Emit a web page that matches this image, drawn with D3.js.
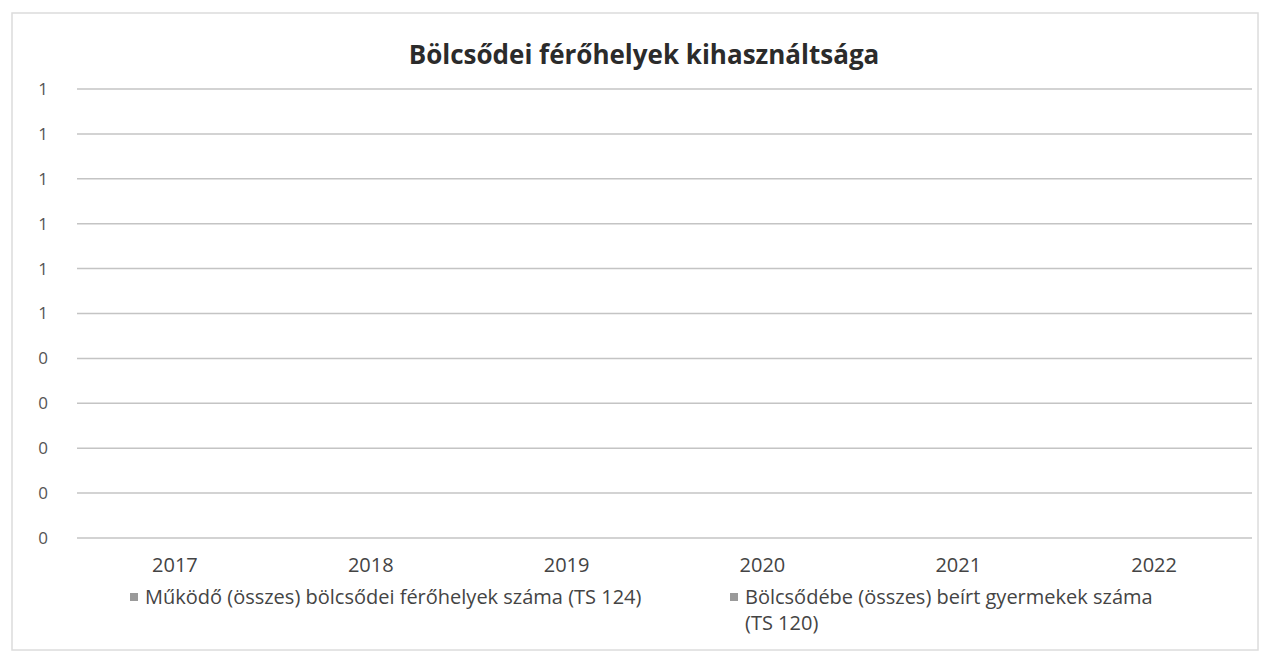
<!DOCTYPE html>
<html>
<head>
<meta charset="utf-8">
<script src="https://cdn.jsdelivr.net/npm/d3@7"></script>
<style>
  body { margin: 0; background: #fff; }
  text { font-family: "Open Sans", sans-serif; }
</style>
</head>
<body>
<svg id="chart" width="1266" height="656"></svg>
<script>
// Adatok (a diagram üres, nincs kitöltött érték)
const years = ["2017", "2018", "2019", "2020", "2021", "2022"];
const ferohelyek = [null, null, null, null, null, null];
const beirtGyermekek = [null, null, null, null, null, null];
const yTicks = [0, 0.1, 0.2, 0.3, 0.4, 0.5, 0.6, 0.7, 0.8, 0.9, 1];
const yTickLabels = ["0", "0", "0", "0", "0", "1", "1", "1", "1", "1", "1"];
const seriesNames = [
  "Működő (összes) bölcsődei férőhelyek száma (TS 124)",
  "Bölcsődébe (összes) beírt gyermekek száma"
];

const svg = d3.select("#chart");
const margin = { top: 89, right: 14, bottom: 118, left: 77 };
const width = +svg.attr("width") - margin.left - margin.right;
const height = +svg.attr("height") - margin.top - margin.bottom;

// keret
svg.append("rect")
  .attr("x", 12).attr("y", 13)
  .attr("width", 1246).attr("height", 637)
  .attr("fill", "none")
  .attr("stroke", "#dcdcdc")
  .attr("stroke-width", 1.5);

svg.append("text")
  .attr("x", 644).attr("y", 64)
  .attr("text-anchor", "middle")
  .attr("font-size", 26)
  .attr("font-weight", "bold")
  .attr("fill", "#2b2b2b")
  .text("Bölcsődei férőhelyek kihasználtsága");

const g = svg.append("g").attr("transform", `translate(${margin.left},${margin.top})`);

const x = d3.scaleBand().domain(years).range([0, width]).paddingInner(0.3).paddingOuter(0.15);
const xc = d3.scaleBand().domain(years).range([0, width]);
const y = d3.scaleLinear().domain([0, 1]).range([height, 0]);

// rácsvonalak
g.append("g")
  .selectAll("line")
  .data(yTicks)
  .join("line")
  .attr("x1", 0).attr("x2", width)
  .attr("y1", d => y(d)).attr("y2", d => y(d))
  .attr("stroke", "#c4c4c4")
  .attr("stroke-width", 1.5);

// y tengely
const yAxis = g.append("g")
  .call(d3.axisLeft(y).tickValues(yTicks).tickFormat((d, i) => yTickLabels[i]).tickSize(0).tickPadding(29));
yAxis.select(".domain").remove();
yAxis.selectAll("text").attr("font-size", 17).attr("fill", "#555").style("font-family", "Open Sans");

// x tengely
const xAxis = g.append("g")
  .attr("transform", `translate(0,${height})`)
  .call(d3.axisBottom(xc).tickSize(0).tickPadding(20));
xAxis.select(".domain").remove();
xAxis.selectAll("text").attr("font-size", 20).attr("fill", "#444").style("font-family", "Open Sans");

// oszlopok (üres adatok)
const sub = d3.scaleBand().domain([0, 1]).range([0, x.bandwidth()]);
[ferohelyek, beirtGyermekek].forEach((vals, si) => {
  g.append("g")
    .selectAll("rect")
    .data(vals.map((v, i) => ({ year: years[i], v })).filter(d => d.v != null))
    .join("rect")
    .attr("x", d => x(d.year) + sub(si))
    .attr("y", d => y(d.v))
    .attr("width", sub.bandwidth())
    .attr("height", d => height - y(d.v))
    .attr("fill", si === 0 ? "#4472c4" : "#ed7d31");
});

// jelmagyarázat
const legend = svg.append("g").attr("font-size", 20).attr("fill", "#444");
const legendPos = [{ x: 130, y: 604 }, { x: 730, y: 604 }];
seriesNames.forEach((name, i) => {
  const p = legendPos[i];
  legend.append("rect")
    .attr("x", p.x).attr("y", p.y - 11)
    .attr("width", 8).attr("height", 8)
    .attr("fill", "#9a9a9a");
  const t = legend.append("text").attr("x", p.x + 15).attr("y", p.y);
  t.append("tspan").text(name);
  if (i === 1) {
    t.append("tspan").attr("x", p.x + 15).attr("dy", 26).text("(TS 120)");
  }
});
</script>
</body>
</html>
